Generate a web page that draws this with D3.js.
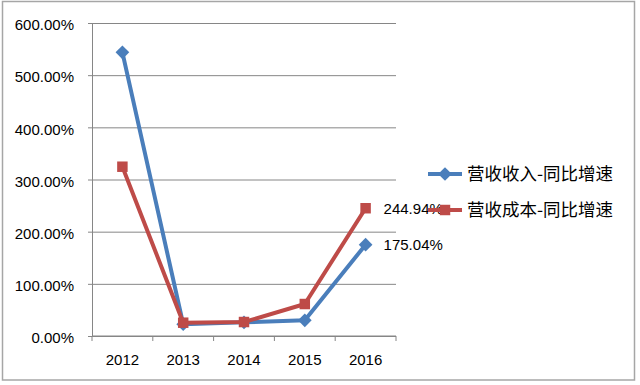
<!DOCTYPE html>
<html lang="zh">
<head>
<meta charset="UTF-8">
<title>营收同比增速</title>
<script src="https://d3js.org/d3.v7.min.js"></script>
<style>
  body { margin: 0; background: #fff; }
  svg { display: block; }
  text { font-family: "Liberation Sans", Arial, "Noto Sans CJK SC", sans-serif; fill: #000; }
  .legend text { font-family: "Noto Sans CJK SC", sans-serif; }
</style>
</head>
<body>
<script>
// data (percent)
const years = ["2012", "2013", "2014", "2015", "2016"];
const revenueGrowth = [543.8, 22.5, 26.2, 30.0, 175.04];
const costGrowth = [324.5, 25.5, 26.8, 61.3, 244.94];
const seriesNames = ["营收收入-同比增速", "营收成本-同比增速"];
const yTicks = [0, 100, 200, 300, 400, 500, 600];

const W = 640, H = 385;
const margin = { left: 92, right: 244, top: 23, bottom: 49 };
const blue = "#4a7ebb", red = "#be4b48";

const svg = d3.select("body").append("svg").attr("width", W).attr("height", H);

// outer frame
svg.append("rect")
  .attr("x", 2.5).attr("y", 1.5)
  .attr("width", 632).attr("height", 378.5)
  .attr("fill", "none").attr("stroke", "#a6a6a6").attr("stroke-width", 1.5);

const x = d3.scaleBand().domain(years).range([margin.left, W - margin.right]);
const y = d3.scaleLinear().domain([0, 600]).range([H - margin.bottom, margin.top]);

// gridlines + y ticks
svg.append("g")
  .attr("transform", `translate(${margin.left},0)`)
  .call(d3.axisLeft(y).tickValues(yTicks).tickSize(4).tickFormat(d => d.toFixed(2) + "%"))
  .call(g => g.select(".domain").attr("stroke", "#868686"))
  .call(g => g.selectAll(".tick line").attr("stroke", "#868686")
    .clone().attr("x2", W - margin.right - margin.left))
  .call(g => g.selectAll(".tick text").attr("x", -18).attr("dy", "0.45em")
    .style("font-size", "15px").style("fill", "#000"));

// x axis
const xAxis = svg.append("g")
  .attr("transform", `translate(0,${y(0)})`);
xAxis.append("line")
  .attr("x1", margin.left).attr("x2", W - margin.right)
  .attr("stroke", "#868686");
xAxis.selectAll(".xt")
  .data(years.concat(["end"]))
  .join("line")
  .attr("x1", (d, i) => i < years.length ? x(d) : x(years[years.length - 1]) + x.bandwidth())
  .attr("x2", (d, i) => i < years.length ? x(d) : x(years[years.length - 1]) + x.bandwidth())
  .attr("y1", 0).attr("y2", 5)
  .attr("stroke", "#868686");
xAxis.selectAll("text")
  .data(years)
  .join("text")
  .attr("x", d => x(d) + x.bandwidth() / 2)
  .attr("y", 29)
  .attr("text-anchor", "middle")
  .style("font-size", "15px")
  .text(d => d);

const cx = d => x(d) + x.bandwidth() / 2;
const line = d3.line().x((d, i) => cx(years[i])).y(d => y(d));

const diamond = d3.symbol().type(d3.symbolDiamond2).size(120);
const square = d3.symbol().type(d3.symbolSquare2).size(140);

function drawSeries(vals, color, sym) {
  svg.append("path").datum(vals)
    .attr("d", line).attr("fill", "none")
    .attr("stroke", color).attr("stroke-width", 4)
    .attr("stroke-linejoin", "round");
  svg.append("g").selectAll("path")
    .data(vals)
    .join("path")
    .attr("transform", (d, i) => `translate(${cx(years[i])},${y(d)})`)
    .attr("d", sym)
    .attr("fill", color);
}
drawSeries(revenueGrowth, blue, diamond);
drawSeries(costGrowth, red, square);

// end labels
const last = years.length - 1;
[costGrowth, revenueGrowth].forEach(vals => {
  svg.append("text")
    .attr("x", cx(years[last]) + 18)
    .attr("y", y(vals[last]))
    .attr("dy", "0.38em")
    .style("font-size", "15px")
    .text(vals[last].toFixed(2) + "%");
});

// legend
const legend = svg.append("g").attr("class", "legend");
[[blue, diamond], [red, square]].forEach(([color, sym], i) => {
  const ly = 174 + i * 36;
  legend.append("line")
    .attr("x1", 428).attr("x2", 462).attr("y1", ly).attr("y2", ly)
    .attr("stroke", color).attr("stroke-width", 4);
  legend.append("path")
    .attr("transform", `translate(445,${ly})`)
    .attr("d", sym).attr("fill", color);
  legend.append("text")
    .attr("x", 467).attr("y", ly).attr("dy", "0.36em")
    .style("font-size", "17.5px")
    .text(seriesNames[i]);
});
</script>
</body>
</html>
